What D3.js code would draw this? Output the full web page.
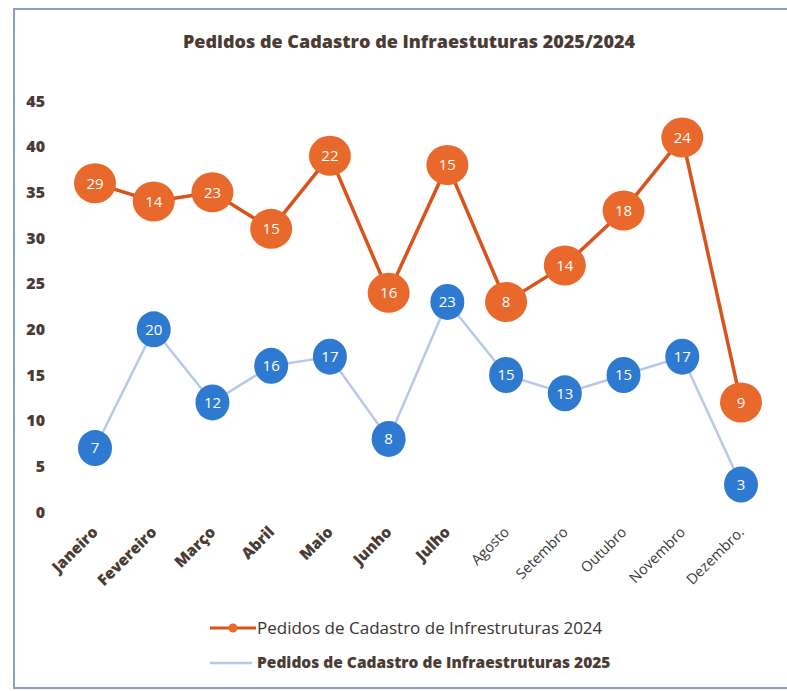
<!DOCTYPE html>
<html>
<head>
<meta charset="utf-8">
<script src="https://cdn.jsdelivr.net/npm/d3@7"></script>
<style>
  body { margin: 0; background: #fff; }
  text { font-family: "Open Sans", "DejaVu Sans", sans-serif; }
</style>
</head>
<body>
<svg id="chart" width="787" height="691"></svg>
<script>
var months = ["Janeiro", "Fevereiro", "Março", "Abril", "Maio", "Junho", "Julho",
  "Agosto", "Setembro", "Outubro", "Novembro", "Dezembro."];
var pedidos2025 = [7, 20, 12, 16, 17, 8, 23, 15, 13, 15, 17, 3];
var pedidos2024 = [29, 14, 23, 15, 22, 16, 15, 8, 14, 18, 24, 9];
var yTicks = [0, 5, 10, 15, 20, 25, 30, 35, 40, 45];
var titulo = "Pedidos de Cadastro de Infraestuturas 2025/2024";
var legenda2024 = "Pedidos de Cadastro de Infrestruturas 2024";
var legenda2025 = "Pedidos de Cadastro de Infraestruturas 2025";

var svg = d3.select("#chart");
var brown = "#4a3c34";

// moldura
svg.append("path")
  .attr("d", "M800,9 H14 V688 H800")
  .attr("fill", "none")
  .attr("stroke", "#8e9fbd")
  .attr("stroke-width", 2);

svg.append("text")
  .attr("x", 409).attr("y", 48)
  .attr("text-anchor", "middle")
  .attr("font-size", 18).attr("font-weight", 800)
  .attr("fill", brown)
  .text(titulo);

var x = d3.scalePoint().domain(months).range([95, 741]);
var y = d3.scaleLinear().domain([0, 45]).range([512, 101]);

// valores empilhados: 2024 sobre 2025
var stacked = pedidos2024.map(function(v, i) { return v + pedidos2025[i]; });

var g = svg.append("g");

g.selectAll(".ytick").data(yTicks).enter().append("text")
  .attr("x", 45).attr("y", function(d) { return y(d); })
  .attr("dy", "0.35em")
  .attr("text-anchor", "end")
  .attr("font-size", 16).attr("font-weight", 800)
  .attr("fill", brown)
  .text(function(d) { return d; });

g.selectAll(".xlab").data(months).enter().append("text")
  .attr("transform", function(d) { return "translate(" + (x(d) + 4) + ",533) rotate(-45)"; })
  .attr("text-anchor", "end")
  .attr("font-size", function(d, i) { return i < 7 ? 15.5 : 14.5; })
  .attr("font-weight", function(d, i) { return i < 7 ? 800 : 400; })
  .attr("fill", function(d, i) { return i < 7 ? brown : "#3a3a3a"; })
  .text(function(d) { return d; });

var line = d3.line()
  .x(function(d, i) { return x(months[i]); })
  .y(function(d) { return y(d); });

g.append("path").datum(pedidos2025)
  .attr("fill", "none")
  .attr("stroke", "#b8c8ec")
  .attr("stroke-width", 2.5)
  .attr("d", line);

g.append("path").datum(stacked)
  .attr("fill", "none")
  .attr("stroke", "#d9531d")
  .attr("stroke-width", 3.5)
  .attr("d", line);

var blue = g.selectAll(".b").data(pedidos2025).enter().append("g")
  .attr("transform", function(d, i) { return "translate(" + x(months[i]) + "," + y(d) + ")"; });
blue.append("ellipse").attr("rx", 17).attr("ry", 18).attr("fill", "#2e7ad0");
blue.append("text")
  .attr("dy", "0.36em").attr("text-anchor", "middle")
  .attr("font-size", 15).attr("fill", "#fff")
  .text(function(d) { return d; });

var orange = g.selectAll(".o").data(stacked).enter().append("g")
  .attr("transform", function(d, i) { return "translate(" + x(months[i]) + "," + y(d) + ")"; });
orange.append("ellipse").attr("rx", 21).attr("ry", 20).attr("fill", "#e8692b");
orange.append("text")
  .attr("dy", "0.36em").attr("text-anchor", "middle")
  .attr("font-size", 15).attr("fill", "#fff")
  .text(function(d, i) { return pedidos2024[i]; });

// legenda
var leg = svg.append("g");
leg.append("line").attr("x1", 210).attr("x2", 256).attr("y1", 628).attr("y2", 628)
  .attr("stroke", "#d9531d").attr("stroke-width", 3);
leg.append("circle").attr("cx", 233).attr("cy", 628).attr("r", 4.5).attr("fill", "#e8692b");
leg.append("text").attr("x", 257).attr("y", 628).attr("dy", "0.35em")
  .attr("font-size", 17).attr("fill", "#3a3230")
  .text(legenda2024);
leg.append("line").attr("x1", 210).attr("x2", 252).attr("y1", 663).attr("y2", 663)
  .attr("stroke", "#b8c8ec").attr("stroke-width", 2.5);
leg.append("text").attr("x", 257).attr("y", 663).attr("dy", "0.35em")
  .attr("font-size", 15.5).attr("font-weight", 800).attr("fill", brown)
  .text(legenda2025);
</script>
</body>
</html>
